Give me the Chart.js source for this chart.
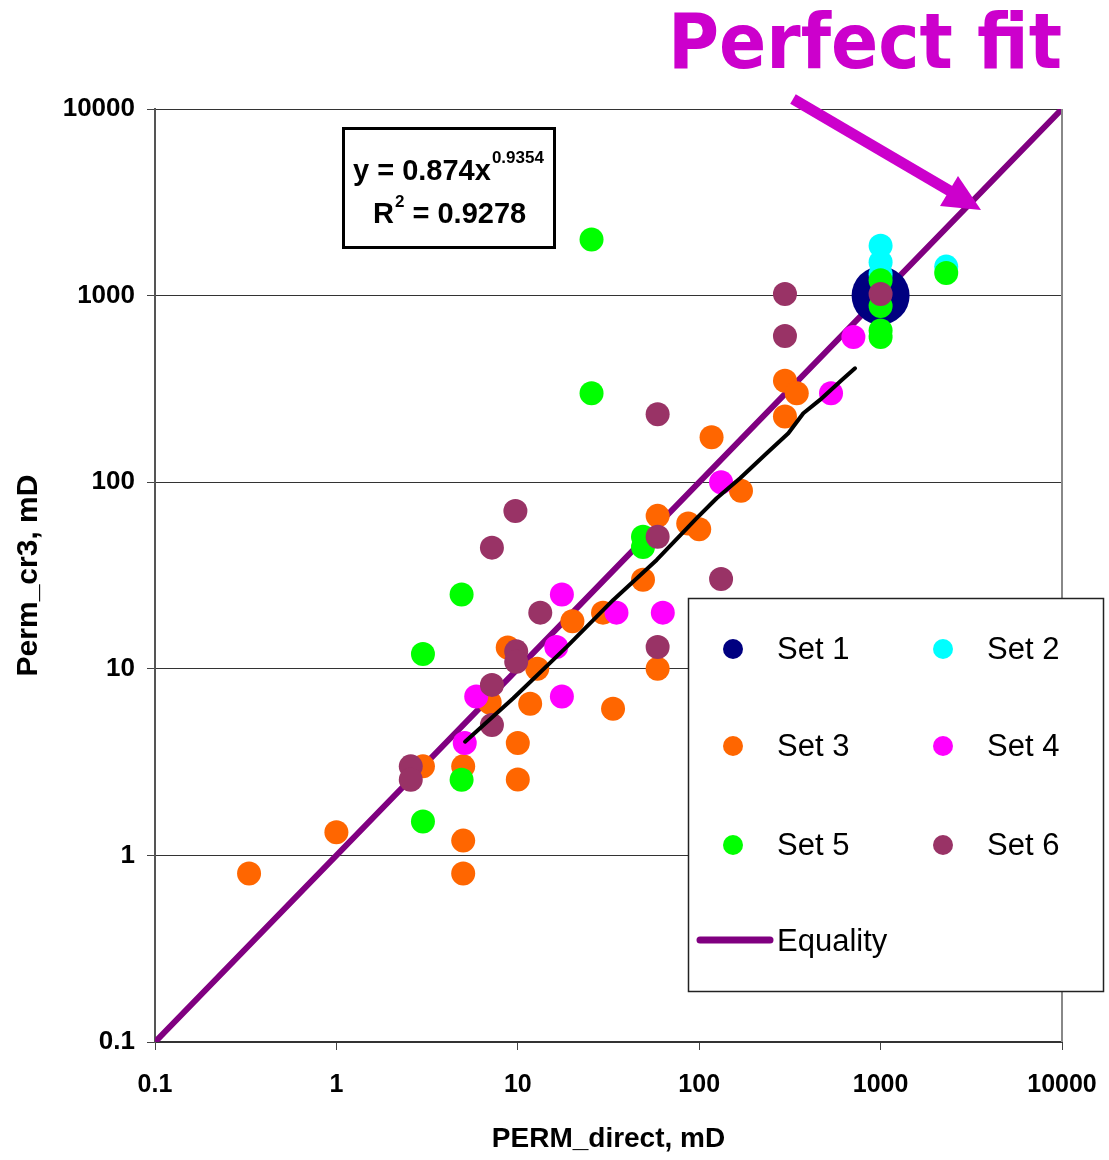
<!DOCTYPE html>
<html>
<head>
<meta charset="utf-8">
<script src="https://cdn.jsdelivr.net/npm/chart.js@4.4.1/dist/chart.umd.min.js"></script>
<style>
  html, body { margin: 0; padding: 0; background: #fff; }
  canvas { display: block; }
</style>
</head>
<body>
<canvas id="chart" width="1109" height="1160"></canvas>
<script>
// values (mD)
const setLabels = ['Set 1', 'Set 2', 'Set 3', 'Set 4', 'Set 5', 'Set 6'];

const set1X = [1000];
const set1Y = [1000];

const set2X = [1000, 1000, 1000, 2300];
const set2Y = [1850, 1510, 1300, 1430];

const set3X = [0.33, 1, 3, 5, 5, 5, 7, 8.8, 10, 10, 11.7, 12.8, 20, 29.5, 33.5, 49, 59, 59, 87, 100, 117, 170, 297, 345, 297];
const set3Y = [0.8, 1.33, 3, 3, 1.2, 0.8, 6.6, 13, 4, 2.55, 6.5, 10, 18, 20, 6.1, 30, 66, 10, 60, 56, 174, 90, 350, 300, 225];

const set4X = [708, 533, 132, 17.5, 16.3, 35, 63, 17.5, 5.9, 5.1];
const set4Y = [600, 300, 100, 25, 13.1, 20, 20, 7.1, 7.1, 4.0];

const set5X = [25.5, 25.5, 49, 49, 4.9, 3, 4.9, 3, 1000, 1000, 1000, 1000, 2300];
const set5Y = [2000, 300, 51, 45, 25, 12, 2.54, 1.52, 1210, 880, 650, 600, 1320];

const set6X = [297, 297, 59, 9.7, 7.2, 13.3, 9.8, 9.8, 7.2, 7.2, 2.57, 2.57, 59, 59, 132, 1000];
const set6Y = [1020, 607, 231, 70, 44.6, 20, 12.4, 10.9, 8.2, 5.0, 3.0, 2.54, 51, 13.1, 30.3, 1020];

const equalityX = [0.1, 10000];
const equalityY = [0.1, 10000];

// black trend curve
const trendX = [5.12, 9.44, 18.6, 33.6, 58.3, 96.9, 124.8, 168, 235.5, 310, 375, 463, 611, 723];
const trendY = [4.07, 6.95, 13.1, 23.4, 38.3, 64.1, 82, 105, 143, 183, 234, 276, 353, 408];

const tickValues = [0.1, 1, 10, 100, 1000, 10000];
const tickLabels = ['0.1', '1', '10', '100', '1000', '10000'];

const FONT = '"Liberation Sans", Arial, sans-serif';
const setColors = ['#000080', '#00FFFF', '#FF6600', '#FF00FF', '#00FF00', '#993366'];

const pts = (xs, ys) => xs.map((x, i) => ({ x: x, y: ys[i] }));
const setXs = [set1X, set2X, set3X, set4X, set5X, set6X];
const setYs = [set1Y, set2Y, set3Y, set4Y, set5Y, set6Y];

const datasets = setLabels.map((label, i) => ({
    label: label,
    data: pts(setXs[i], setYs[i]),
    backgroundColor: setColors[i],
    borderWidth: 0,
    pointRadius: i === 0 ? 29 : 12,
    pointHoverRadius: i === 0 ? 29 : 12,
    order: 6 - i
}));

datasets.push({
    label: 'Equality',
    data: pts(equalityX, equalityY),
    showLine: true,
    borderColor: '#800080',
    borderWidth: 6,
    borderCapStyle: 'round',
    pointRadius: 0,
    order: 7
});

datasets.push({
    label: 'trend',
    data: pts(trendX, trendY),
    showLine: true,
    borderColor: '#000',
    borderWidth: 4,
    borderCapStyle: 'round',
    borderJoinStyle: 'round',
    pointRadius: 0,
    order: 0
});

const onlyDecades = (scale) => {
    scale.ticks = tickValues.map(v => ({ value: v }));
};

const decor = {
    id: 'decor',
    afterDraw(chart) {
        const { ctx, chartArea: a } = chart;
        ctx.save();

        // right frame
        ctx.strokeStyle = '#888';
        ctx.lineWidth = 2;
        ctx.beginPath();
        ctx.moveTo(a.right, a.top);
        ctx.lineTo(a.right, a.bottom);
        ctx.stroke();

        // fit equation box
        ctx.fillStyle = '#fff';
        ctx.fillRect(343.5, 128.5, 211, 119);
        ctx.strokeStyle = '#000';
        ctx.lineWidth = 3;
        ctx.strokeRect(343.5, 128.5, 211, 119);
        ctx.fillStyle = '#000';
        ctx.textAlign = 'left';
        ctx.textBaseline = 'alphabetic';
        ctx.font = 'bold 29px ' + FONT;
        const eq = 'y = 0.874x';
        ctx.fillText(eq, 353, 180);
        let ex = 353 + ctx.measureText(eq).width;
        ctx.font = 'bold 17px ' + FONT;
        ctx.fillText('0.9354', ex + 1, 163);
        ctx.font = 'bold 29px ' + FONT;
        ctx.fillText('R', 373, 223);
        ex = 373 + ctx.measureText('R').width;
        ctx.font = 'bold 17px ' + FONT;
        ctx.fillText('2', ex + 1, 207);
        ex += ctx.measureText('2').width + 1;
        ctx.font = 'bold 29px ' + FONT;
        ctx.fillText(' = 0.9278', ex, 223);

        // "Perfect fit" note and arrow
        ctx.fillStyle = '#CC00CC';
        ctx.font = 'bold 76px "DejaVu Sans", sans-serif';
        const pf = 'Perfect fit';
        const pw = ctx.measureText(pf).width;
        ctx.save();
        ctx.translate(668, 68);
        ctx.scale(394 / pw, 1);
        ctx.fillText(pf, 0, 0);
        ctx.restore();

        ctx.strokeStyle = '#CC00CC';
        ctx.lineWidth = 11;
        ctx.lineCap = 'butt';
        ctx.beginPath();
        ctx.moveTo(793, 99);
        ctx.lineTo(950, 191);
        ctx.stroke();
        ctx.beginPath();
        ctx.moveTo(981, 210);
        ctx.lineTo(958, 176);
        ctx.lineTo(940, 206);
        ctx.closePath();
        ctx.fill();

        // legend
        ctx.fillStyle = '#fff';
        ctx.fillRect(688.5, 598.5, 415, 393);
        ctx.strokeStyle = '#222';
        ctx.lineWidth = 1.5;
        ctx.strokeRect(688.5, 598.5, 415, 393);
        const rows = [649, 746, 845];
        const markX = [733, 943];
        const textX = [777, 987];
        ctx.font = '31px ' + FONT;
        chart.data.datasets.slice(0, 6).forEach((d, i) => {
            const r = Math.floor(i / 2), c = i % 2;
            ctx.fillStyle = d.backgroundColor;
            ctx.beginPath();
            ctx.arc(markX[c], rows[r], 10, 0, Math.PI * 2);
            ctx.fill();
            ctx.fillStyle = '#000';
            ctx.fillText(d.label, textX[c], rows[r] + 10);
        });
        const eqDs = chart.data.datasets[6];
        ctx.strokeStyle = eqDs.borderColor;
        ctx.lineWidth = 7;
        ctx.lineCap = 'round';
        ctx.beginPath();
        ctx.moveTo(700, 940);
        ctx.lineTo(770, 940);
        ctx.stroke();
        ctx.fillStyle = '#000';
        ctx.fillText(eqDs.label, 777, 951);

        ctx.restore();
    }
};

const context = document.getElementById('chart').getContext('2d');

const chart = new Chart(context, {
    type: 'scatter',
    data: { datasets: datasets },
    options: {
        responsive: false,
        animation: false,
        layout: { padding: { top: 109, right: 47, left: 0, bottom: 0 } },
        scales: {
            x: {
                type: 'logarithmic',
                min: 0.1,
                max: 10000,
                afterBuildTicks: onlyDecades,
                afterFit: (s) => {
                    s.height = 118;
                    s.paddingLeft = 0;
                    s.paddingRight = 0;
                },
                ticks: {
                    color: '#000',
                    padding: 20,
                    maxRotation: 0,
                    autoSkip: false,
                    font: { family: FONT, size: 25, weight: 'bold' },
                    callback: (v) => tickLabels[tickValues.indexOf(v)]
                },
                grid: { drawOnChartArea: false, tickLength: 8, tickColor: '#444' },
                border: { color: '#333', width: 2 },
                title: {
                    display: true,
                    text: 'PERM_direct, mD',
                    color: '#000',
                    padding: { top: 0, bottom: 4 },
                    font: { family: FONT, size: 28, weight: 'bold' }
                }
            },
            y: {
                type: 'logarithmic',
                min: 0.1,
                max: 10000,
                afterBuildTicks: onlyDecades,
                afterFit: (s) => {
                    s.width = 155;
                    s.paddingTop = 0;
                    s.paddingBottom = 0;
                },
                ticks: {
                    color: '#000',
                    padding: 12,
                    autoSkip: false,
                    font: { family: FONT, size: 26, weight: 'bold' },
                    callback: (v) => tickLabels[tickValues.indexOf(v)]
                },
                grid: { color: '#333', lineWidth: 1, tickLength: 8, tickColor: '#444' },
                border: { color: '#555', width: 2 },
                title: {
                    display: true,
                    text: 'Perm_cr3, mD',
                    color: '#000',
                    padding: { top: 11, bottom: 0 },
                    font: { family: FONT, size: 30, weight: 'bold' }
                }
            }
        },
        plugins: {
            legend: { display: false },
            tooltip: { enabled: false }
        }
    },
    plugins: [decor]
});
</script>
</body>
</html>
